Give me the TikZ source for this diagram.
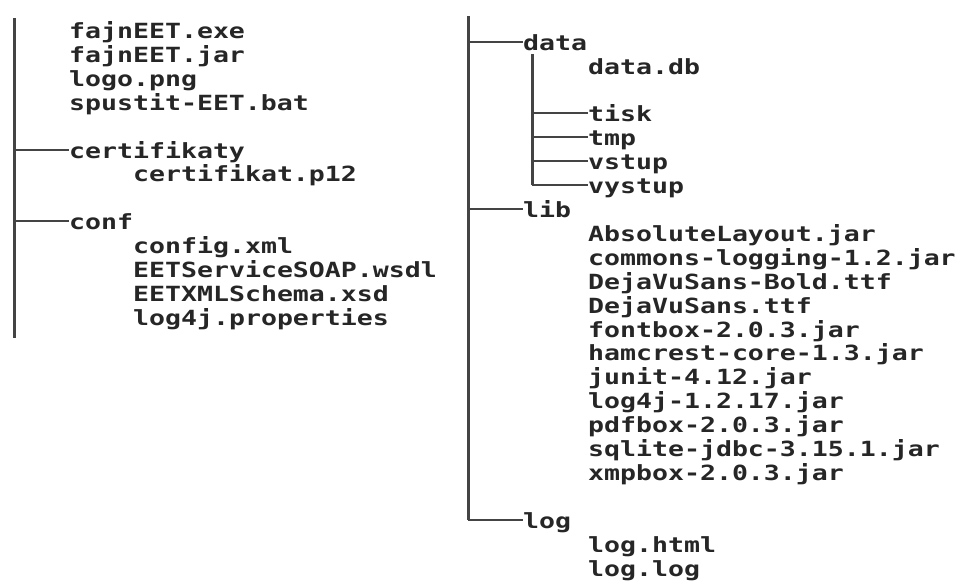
\documentclass[tikz,border=0pt]{standalone}
\usepackage{fontspec}
\newfontfamily\treefont[FakeStretch=1.27]{DejaVu Sans Mono Bold}
\definecolor{ink}{HTML}{262626}
\definecolor{rule}{HTML}{444444}

\tikzstyle{entry}=[inner sep=0pt, anchor=west, text height=17pt, text depth=0pt,
                   font={\treefont\fontsize{20.9}{24}\selectfont}, text=ink]
\tikzstyle{folder}=[entry]
\tikzstyle{trunk} = [draw, rule, line width=3pt]
\tikzstyle{branch} = [draw, rule, line width=1.9pt]

\begin{document}
\begin{tikzpicture}[x=1pt, y=-1pt]
    \useasboundingbox (0,0) rectangle (957,581);
    % Left tree: files in the root, then certifikaty and conf
    \foreach \row/\name/\label in {0/exe/fajnEET.exe, 1/jar/fajnEET.jar,
        2/logo/logo.png, 3/bat/spustit-EET.bat}
      \node[entry] (\name) at (69, {30.3+23.85*\row}) {\label};
    \foreach \row/\name in {5/certifikaty, 8/conf}
      \node[folder] (\name) at (69, {30.3+23.85*\row}) {\name};
    \foreach \row/\name/\label in {6/p12/certifikat.p12, 9/config/config.xml,
        10/wsdl/EETServiceSOAP.wsdl, 11/xsd/EETXMLSchema.xsd,
        12/props/log4j.properties}
      \node[entry] (\name) at (133, {30.3+23.85*\row}) {\label};
    \coordinate (ltop) at (14, 18);
    \coordinate (lbottom) at (14, 338);
    \path[trunk] (ltop) -- (lbottom);
    \foreach \dest in {certifikaty, conf}
      \path[branch] (ltop |- \dest.west) -- (\dest.west);

    % Right tree: data, lib and log
    \foreach \row/\name in {0/data, 7/lib, 20/log}
      \node[folder] (\name) at (523, {41.7+23.9*\row}) {\name};
    \foreach \row/\name in {3/tisk, 4/tmp, 5/vstup, 6/vystup}
      \node[folder] (\name) at (588, {41.7+23.9*\row}) {\name};
    \foreach \row/\name/\label in {1/db/data.db,
        8/absolute/AbsoluteLayout.jar, 9/commons/commons-logging-1.2.jar,
        10/dejabold/DejaVuSans-Bold.ttf, 11/deja/DejaVuSans.ttf,
        12/fontbox/fontbox-2.0.3.jar, 13/hamcrest/hamcrest-core-1.3.jar,
        14/junit/junit-4.12.jar, 15/logfourj/log4j-1.2.17.jar,
        16/pdfbox/pdfbox-2.0.3.jar, 17/sqlite/sqlite-jdbc-3.15.1.jar,
        18/xmpbox/xmpbox-2.0.3.jar, 21/html/log.html, 22/loglog/log.log}
      \node[entry] (\name) at (588, {41.7+23.9*\row}) {\label};
    \coordinate (rtop) at (468, 16);
    \path[trunk] (rtop) -- (rtop |- log.west);
    \foreach \dest in {data, lib, log}
      \path[branch] (rtop |- \dest.west) -- (\dest.west);
    \coordinate (dtop) at (532, 54);
    \path[trunk] (dtop) -- (dtop |- vystup.west);
    \foreach \dest in {tisk, tmp, vstup, vystup}
      \path[branch] (dtop |- \dest.west) -- (\dest.west);
\end{tikzpicture}
\end{document}
